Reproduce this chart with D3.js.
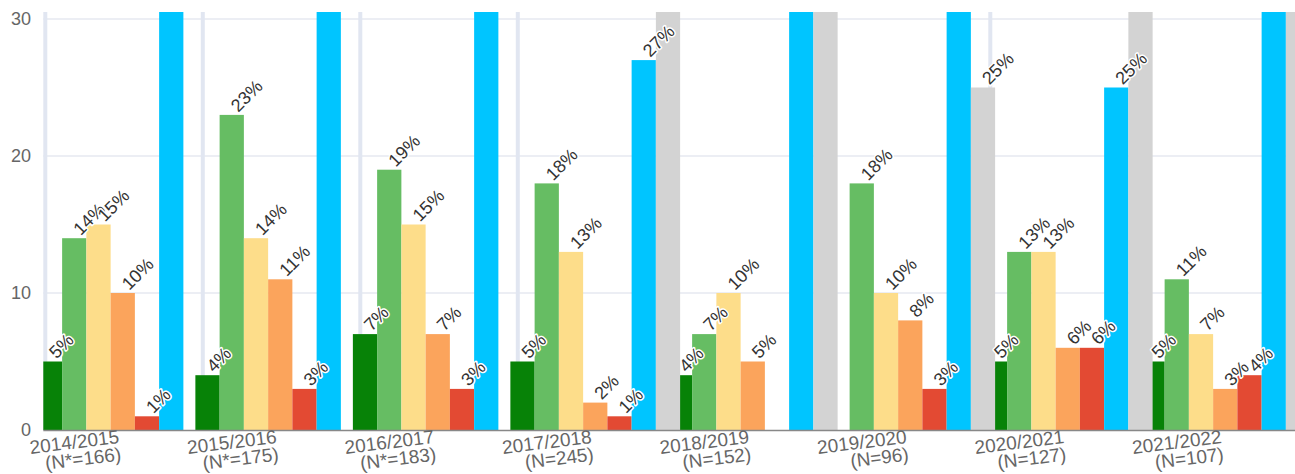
<!DOCTYPE html>
<html>
<head>
<meta charset="utf-8">
<script src="https://cdn.jsdelivr.net/npm/d3@7"></script>
<style>
  body { margin: 0; background: #fff; }
  svg { display: block; font-family: "Liberation Sans", Arial, Helvetica, sans-serif; }
</style>
</head>
<body>
<svg id="chart" width="1295" height="474"></svg>
<script>
// Data
var years = ["2014/2015", "2015/2016", "2016/2017", "2017/2018", "2018/2019", "2019/2020", "2020/2021", "2021/2022"];
var sampleSizes = ["(N*=166)", "(N*=175)", "(N*=183)", "(N=245)", "(N=152)", "(N=96)", "(N=127)", "(N=107)"];
var seriesNames = ["s1", "s2", "s3", "s4", "s5", "s6", "s7"];
var seriesColors = ["#078207", "#66bd63", "#fddd8a", "#fba45c", "#e34a33", "#00c5ff", "#d3d3d3"];
var s1 = [5, 4, 7, 5, 4, null, 5, 5];
var s2 = [14, 23, 19, 18, 7, 18, 13, 11];
var s3 = [15, 14, 15, 13, 10, 10, 13, 7];
var s4 = [10, 11, 7, 2, 5, 8, 6, 3];
var s5 = [1, 3, 3, 1, null, 3, 6, 4];
var s6 = [55, 45, 49, 27, 38, 36, 25, 38];   // above 30 are cut off, estimated
var s7 = [null, null, null, 34, 36, 25, 32, 32];
var yTicks = [0, 10, 20, 30];

var seriesValues = [s1, s2, s3, s4, s5, s6, s7];

var svg = d3.select("#chart"),
    width = +svg.attr("width"),
    height = +svg.attr("height");

var plotLeft = 43.3, plotTop = 12, plotBottom = 430;

// Scales
var x0 = d3.scaleBand()
    .domain(years)
    .range([45, 45 + 157.5 * years.length]);

var barW = 24.25;
var x1 = d3.scaleBand()
    .domain(seriesNames)
    .range([0, barW * seriesNames.length]);

var y = d3.scaleLinear()
    .domain([0, 30])
    .range([plotBottom, 19]);

function barX(year, name) {
    return x0(year) + x0.bandwidth() / 2 - x1.range()[1] / 2 + x1(name) - 1;
}

// clip for the plot area
svg.append("defs").append("clipPath")
    .attr("id", "plotClip")
    .append("rect")
    .attr("x", plotLeft)
    .attr("y", plotTop)
    .attr("width", width - plotLeft)
    .attr("height", plotBottom - plotTop);

// horizontal grid lines
svg.append("g")
    .selectAll("line")
    .data(yTicks.filter(function (d) { return d > 0; }))
    .enter()
    .append("line")
    .attr("x1", plotLeft)
    .attr("x2", width)
    .attr("y1", function (d) { return y(d); })
    .attr("y2", function (d) { return y(d); })
    .attr("stroke", "#e6e9f1")
    .attr("stroke-width", 1.5);

// vertical grid lines at category boundaries
svg.append("g")
    .selectAll("line")
    .data(years)
    .enter()
    .append("line")
    .attr("x1", function (d) { return x0(d) + 0.3; })
    .attr("x2", function (d) { return x0(d) + 0.3; })
    .attr("y1", plotTop)
    .attr("y2", plotBottom)
    .attr("stroke", "#e1e6f1")
    .attr("stroke-width", 4);

// y axis labels
svg.append("g")
    .selectAll("text")
    .data(yTicks)
    .enter()
    .append("text")
    .attr("x", 31)
    .attr("y", function (d) { return y(d); })
    .attr("dy", "0.35em")
    .attr("text-anchor", "end")
    .attr("fill", "#666")
    .style("font-size", "18px")
    .text(function (d) { return d; });

// flatten to points
var points = [];
seriesValues.forEach(function (vals, si) {
    vals.forEach(function (v, ci) {
        if (v !== null) {
            points.push({ year: years[ci], name: seriesNames[si], color: seriesColors[si], value: v });
        }
    });
});

// bars
svg.append("g")
    .attr("clip-path", "url(#plotClip)")
    .selectAll("rect")
    .data(points)
    .enter()
    .append("rect")
    .attr("x", function (d) { return barX(d.year, d.name); })
    .attr("y", function (d) { return y(d.value); })
    .attr("width", barW)
    .attr("height", function (d) { return y(0) - y(d.value); })
    .attr("fill", function (d) { return d.color; });

// x axis line
svg.append("line")
    .attr("x1", plotLeft)
    .attr("x2", width)
    .attr("y1", plotBottom + 0.5)
    .attr("y2", plotBottom + 0.5)
    .attr("stroke", "#888")
    .attr("stroke-width", 1.7);

// data labels (only the ones inside the plot)
svg.append("g")
    .selectAll("text")
    .data(points.filter(function (d) { return d.value <= 30; }))
    .enter()
    .append("text")
    .attr("transform", function (d) {
        var cx = barX(d.year, d.name) + barW / 2 + 6.5;
        return "translate(" + cx + "," + (y(d.value) - 2) + ") rotate(-45)";
    })
    .attr("fill", "#333")
    .attr("stroke", "#fff")
    .attr("stroke-width", 3)
    .attr("stroke-linejoin", "round")
    .attr("paint-order", "stroke")
    .style("font-size", "18px")
    .text(function (d) { return d.value + "%"; });

// category labels
var catLabels = svg.append("g")
    .selectAll("text")
    .data(years)
    .enter()
    .append("text")
    .attr("transform", function (d) {
        return "translate(" + (x0(d) + x0.bandwidth() / 2 - 4) + ",443) rotate(-7)";
    })
    .attr("text-anchor", "end")
    .attr("fill", "#666")
    .style("font-size", "19px");

catLabels.append("tspan")
    .attr("x", 0)
    .text(function (d) { return d; });

catLabels.append("tspan")
    .attr("x", 0)
    .attr("dy", 17.5)
    .text(function (d, i) { return sampleSizes[i]; });
</script>
</body>
</html>
